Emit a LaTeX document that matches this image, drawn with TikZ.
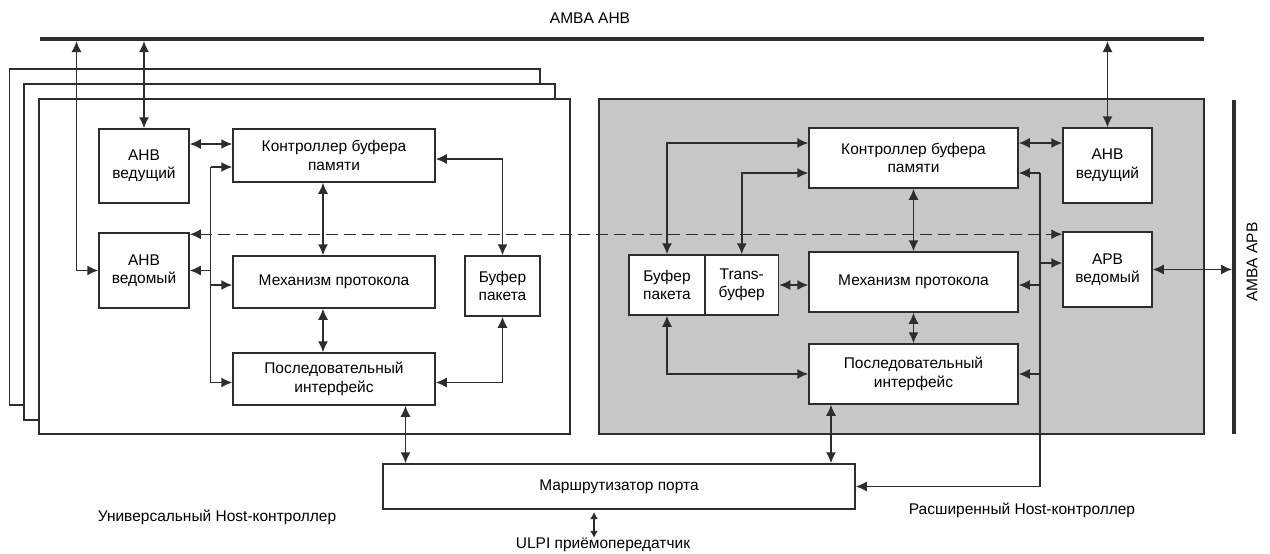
\documentclass[tikz,border=0pt]{standalone}
\usepackage{fontspec}
\setmainfont{Liberation Sans}
\usetikzlibrary{positioning,arrows.meta,calc}
\definecolor{hostgray}{RGB}{198,199,198}
\definecolor{ink}{RGB}{45,45,45}
\newcommand{\lbl}{\fontsize{15.5}{18.5}\selectfont}

\begin{document}
\begin{tikzpicture}[
  x=1pt, y=-1pt,
  >={Latex[length=11pt,width=10pt]},
  box/.style={draw=ink, fill=white, line width=1.5pt, align=center, inner sep=0pt, font=\lbl},
  frame/.style={draw=ink, fill=white, line width=1.5pt},
  link/.style={<->, line width=1.5pt, ink},
  feed/.style={->, line width=1.5pt, ink},
  bus/.style={line width=4pt, ink},
  caption/.style={font=\lbl, inner sep=0pt}
]
\useasboundingbox (0,0) rectangle (1270,554);

% host frames
\draw[frame] (9.5,69) rectangle (540,405);
\draw[frame] (24,84) rectangle (555,420);
\draw[frame] (39,99) rectangle (570,434);
\draw[frame, fill=hostgray] (599,99) rectangle (1204,434);

% buses
\coordinate (ahbL) at (40,39);
\coordinate (ahbR) at (1204,39);
\coordinate (ahbS) at (0,41);
\coordinate (apbT) at (1234,100);
\coordinate (apbB) at (1234,434);
\coordinate (apbS) at (1232,0);
\draw[bus] (ahbL) -- (ahbR);
\draw[bus, line width=3.5pt] (apbT) -- (apbB);
\node[caption] (ahbTxt) at (590,18) {AMBA AHB};
\node[caption, rotate=90] (apbTxt) at (1252,262) {AMBA APB};

% universal host
\node[box, minimum width=90pt, minimum height=74pt] (lAhbM) at (144,166) {AHB\\ведущий};
\node[box, minimum width=202pt, minimum height=53pt] (lCtrl) at (334,155.5) {Контроллер буфера\\памяти};
\node[box, minimum width=90pt, minimum height=75pt] (lAhbS) at (144,270.5) {AHB\\ведомый};
\node[box, minimum width=202pt, minimum height=52pt] (lProt) at (334,282) {Механизм протокола};
\node[box, minimum width=75pt, minimum height=60pt] (lPkt) at (502.5,286) {Буфер\\пакета};
\node[box, minimum width=202pt, minimum height=52pt] (lSer) at (334,379) {Последовательный\\интерфейс};

% extended host
\node[box, minimum width=209pt, minimum height=60pt] (rCtrl) at (913.5,158) {Контроллер буфера\\памяти};
\node[box, minimum width=89pt, minimum height=75pt] (rAhbM) at (1107.5,165.5) {AHB\\ведущий};
\node[box, minimum width=89pt, minimum height=75pt] (rApbS) at (1107.5,269.5) {APB\\ведомый};
\node[box, minimum width=76pt, minimum height=60pt] (rPkt) at (667,285) {Буфер\\пакета};
\node[box, minimum width=73.5pt, minimum height=60pt] (rTrans) at (741.75,285) {Trans-\\буфер};
\node[box, minimum width=209pt, minimum height=60pt] (rProt) at (913.5,282) {Механизм протокола};
\node[box, minimum width=209pt, minimum height=60pt] (rSer) at (913.5,374) {Последовательный\\интерфейс};

% port router
\node[box, minimum width=472pt, minimum height=45pt] (router) at (619,486.5) {Маршрутизатор порта};

\node[caption] (uniTxt) at (217,517) {Универсальный Host-контроллер};
\node[caption] (extTxt) at (1022,510) {Расширенный Host-контроллер};
\node[caption] (ulpi) at (603,545) {ULPI приёмопередатчик};

% universal host links
\coordinate (lTap) at (76.5,41);
\draw[link] (lTap) |- (lAhbS.west);
\draw[link] (lAhbM.north |- ahbS) -- (lAhbM.north);
\coordinate (lMC) at ([yshift=22pt]lAhbM.east);
\draw[link] (lMC) -- (lMC -| lCtrl.west);
\coordinate (lCP) at ([yshift=-3.5pt]lCtrl.east);
\draw[link] (lCP) -| (lPkt.north);
\draw[link] ([xshift=-11pt]lCtrl.south) -- ([xshift=-11pt]lProt.north);
\draw[link] ([xshift=-11pt]lProt.south) -- ([xshift=-11pt]lSer.north);
\coordinate (lSP) at ([yshift=-3.5pt]lSer.east);
\draw[link] (lSP) -| (lPkt.south);
\coordinate (lSR) at ([xshift=71.5pt]lSer.south);
\draw[link] (lSR) -- (lSR |- router.north);
% register lines
\coordinate (lTrunk) at (210.5,0);
\coordinate (lCtrlIn) at ([yshift=-11.5pt]lCtrl.west);
\coordinate (lProtIn) at ([yshift=-3pt]lProt.west);
\coordinate (lSerIn) at ([yshift=-3.5pt]lSer.west);
\draw[feed] (lCtrlIn -| lTrunk) |- (lSerIn);
\draw[feed] (lCtrlIn -| lTrunk) -- (lCtrlIn);
\draw[feed] (lProtIn -| lTrunk) -- (lProtIn);
\draw[feed] (lAhbS.east -| lTrunk) -- (lAhbS.east);
\coordinate (lDash) at ([yshift=-2pt]lAhbS.north east);
\draw[link, dash pattern=on 12pt off 6pt] (lDash) -- (lDash -| rApbS.west);

% extended host links
\draw[link] (rAhbM.north |- ahbS) -- (rAhbM.north);
\coordinate (rCA) at ([yshift=15pt]rCtrl.east);
\draw[link] (rCA) -- (rCA -| rAhbM.west);
\draw[link] (rPkt.north) |- ([yshift=15pt]rCtrl.west);
\draw[link] (rTrans.north) |- ([yshift=-15pt]rCtrl.west);
\draw[link] (rCtrl.south) -- (rProt.north);
\draw[link] (rTrans.east) -- (rTrans.east -| rProt.west);
\draw[link] (rProt.south) -- (rSer.north);
\draw[link] (rPkt.south) |- (rSer.west);
\coordinate (rSR) at ([xshift=-82.5pt]rSer.south);
\draw[link] (rSR) -- (rSR |- router.north);
\draw[link] (rApbS.east) -- (rApbS.east -| apbS);
% register lines
\coordinate (rTrunk) at (1040,0);
\coordinate (rCtrlIn) at ([yshift=-15pt]rCtrl.east);
\coordinate (rApbIn) at ([yshift=6.5pt]rApbS.west);
\coordinate (rProtIn) at ([yshift=-3pt]rProt.east);
\draw[feed] (rCtrlIn -| rTrunk) |- (router.east);
\draw[feed] (rCtrlIn -| rTrunk) -- (rCtrlIn);
\draw[feed] (rApbIn -| rTrunk) -- (rApbIn);
\draw[feed] (rProtIn -| rTrunk) -- (rProtIn);
\draw[feed] (rSer.east -| rTrunk) -- (rSer.east);

% transceiver
\coordinate (ulpiTop) at (594,512);
\draw[link, {Latex[length=7pt,width=8pt]}-{Latex[length=7pt,width=8pt]}] (ulpiTop) -- (ulpiTop |- ulpi.north);
\end{tikzpicture}
\end{document}
